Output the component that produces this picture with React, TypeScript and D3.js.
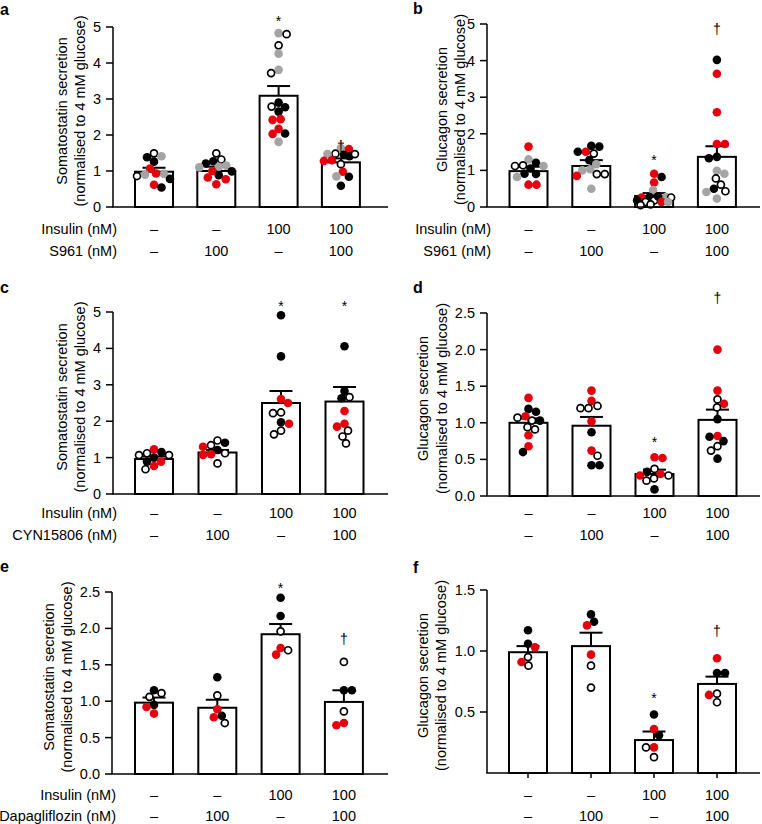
import React from 'react';
import * as d3 from 'd3';

const W = 762;
const H = 824;
const groups = ['g1', 'g2', 'g3', 'g4'];
const insulinRow = ['–', '–', '100', '100'];
const drugRow = ['–', '100', '–', '100'];

type Pt = [number, string];

// ---- panel a : somatostatin, S961
const aMeans = [0.98, 1.0, 3.09, 1.24];
const aSems = [0.11, 0.12, 0.27, 0.11];
const aPoints: Pt[][] = [
  [[1.49, 'o'], [1.41, 'g'], [1.38, 'k'], [1.26, 'k'], [1.07, 'r'], [0.92, 'g'], [0.93, 'r'], [0.86, 'o'], [0.9, 'g'], [0.78, 'k'], [0.62, 'r'], [0.54, 'k']],
  [[1.49, 'o'], [1.32, 'o'], [1.27, 'k'], [1.21, 'k'], [1.15, 'g'], [1.1, 'g'], [1.12, 'g'], [1.0, 'r'], [0.99, 'k'], [0.88, 'k'], [0.82, 'r'], [0.77, 'r'], [0.63, 'r']],
  [[4.83, 'g'], [4.8, 'o'], [4.49, 'o'], [4.26, 'g'], [3.81, 'g'], [3.72, 'o'], [2.9, 'k'], [2.77, 'k'], [2.79, 'o'], [2.65, 'k'], [2.44, 'r'], [2.42, 'r'], [2.17, 'r'], [2.03, 'r'], [2.04, 'k'], [1.81, 'g']],
  [[1.64, 'g'], [1.61, 'r'], [1.48, 'o'], [1.47, 'g'], [1.41, 'k'], [1.47, 'o'], [1.45, 'k'], [1.3, 'r'], [1.28, 'r'], [1.19, 'o'], [0.98, 'r'], [0.85, 'g'], [0.84, 'k'], [0.59, 'k']],
];
const aTicks = [0, 1, 2, 3, 4, 5];
const aMarks: [number, string, number][] = [[2, '*', 5.25], [3, '†', 1.66]];

// ---- panel b : glucagon, S961
const bMeans = [0.98, 1.12, 0.3, 1.37];
const bSems = [0.12, 0.16, 0.08, 0.29];
const bPoints: Pt[][] = [
  [[1.65, 'r'], [1.3, 'g'], [1.21, 'k'], [1.12, 'o'], [1.12, 'g'], [1.14, 'o'], [1.05, 'k'], [0.91, 'k'], [0.9, 'k'], [0.82, 'g'], [0.61, 'r'], [0.61, 'r']],
  [[1.67, 'k'], [1.65, 'k'], [1.51, 'r'], [1.46, 'o'], [1.51, 'k'], [1.28, 'k'], [1.17, 'g'], [1.03, 'g'], [1.0, 'g'], [0.9, 'o'], [0.9, 'o'], [0.85, 'r'], [0.5, 'g']],
  [[0.91, 'r'], [0.82, 'k'], [0.67, 'r'], [0.46, 'g'], [0.27, 'k'], [0.26, 'r'], [0.27, 'g'], [0.18, 'o'], [0.18, 'k'], [0.29, 'k'], [0.26, 'o'], [0.14, 'r'], [0.14, 'o'], [0.14, 'g'], [0.05, 'o'], [0.07, 'o']],
  [[4.02, 'k'], [3.64, 'r'], [2.59, 'r'], [1.72, 'r'], [1.72, 'r'], [1.37, 'k'], [1.33, 'k'], [0.99, 'g'], [0.91, 'g'], [0.78, 'o'], [0.61, 'o'], [0.43, 'o'], [0.5, 'k'], [0.41, 'g'], [0.23, 'g']],
];
const bTicks = [0, 1, 2, 3, 4, 5];
const bMarks: [number, string, number][] = [[2, '*', 1.37], [3, '†', 4.84]];

// ---- panel c : somatostatin, CYN15806
const cMeans = [0.96, 1.14, 2.5, 2.54];
const cSems = [0.07, 0.07, 0.33, 0.4];
const cPoints: Pt[][] = [
  [[1.23, 'r'], [1.15, 'k'], [1.12, 'o'], [1.07, 'o'], [1.07, 'o'], [1.0, 'k'], [0.89, 'k'], [0.89, 'r'], [0.77, 'r'], [0.68, 'o']],
  [[1.47, 'o'], [1.41, 'k'], [1.34, 'o'], [1.3, 'r'], [1.21, 'k'], [1.12, 'o'], [1.09, 'r'], [1.07, 'r'], [0.84, 'o']],
  [[4.91, 'k'], [3.78, 'k'], [2.61, 'r'], [2.5, 'r'], [2.24, 'o'], [2.22, 'o'], [1.97, 'k'], [1.93, 'r'], [1.74, 'o'], [1.64, 'o']],
  [[4.06, 'k'], [2.83, 'k'], [2.63, 'k'], [2.66, 'o'], [2.28, 'r'], [1.93, 'r'], [1.85, 'r'], [1.74, 'o'], [1.58, 'o'], [1.39, 'o']],
];
const cTicks = [0, 1, 2, 3, 4, 5];
const cMarks: [number, string, number][] = [[2, '*', 5.27], [3, '*', 5.27]];

// ---- panel d : glucagon, CYN15806
const dMeans = [1.0, 0.96, 0.3, 1.04];
const dSems = [0.06, 0.12, 0.06, 0.14];
const dPoints: Pt[][] = [
  [[1.34, 'r'], [1.19, 'k'], [1.15, 'k'], [1.09, 'r'], [1.07, 'o'], [1.03, 'o'], [1.03, 'k'], [0.94, 'o'], [0.91, 'o'], [0.83, 'r'], [0.68, 'r'], [0.6, 'k']],
  [[1.44, 'r'], [1.3, 'r'], [1.23, 'o'], [1.2, 'o'], [1.2, 'o'], [1.02, 'r'], [0.87, 'k'], [0.62, 'r'], [0.55, 'o'], [0.42, 'k'], [0.42, 'k']],
  [[0.53, 'r'], [0.52, 'r'], [0.37, 'o'], [0.33, 'k'], [0.3, 'r'], [0.28, 'o'], [0.28, 'r'], [0.24, 'o'], [0.21, 'o'], [0.09, 'k']],
  [[2.0, 'r'], [1.44, 'r'], [1.32, 'o'], [1.26, 'r'], [1.21, 'o'], [1.05, 'k'], [0.82, 'r'], [0.81, 'k'], [0.75, 'k'], [0.68, 'o'], [0.62, 'o'], [0.51, 'k']],
];
const dTicks = [0, 0.5, 1.0, 1.5, 2.0, 2.5];
const dMarks: [number, string, number][] = [[2, '*', 0.79], [3, '†', 2.7]];

// ---- panel e : somatostatin, dapagliflozin
const eMeans = [0.98, 0.91, 1.92, 0.99];
const eSems = [0.07, 0.11, 0.14, 0.16];
const ePoints: Pt[][] = [
  [[1.15, 'k'], [1.11, 'o'], [1.06, 'o'], [0.95, 'k'], [0.92, 'r'], [0.83, 'r']],
  [[1.33, 'k'], [1.08, 'o'], [0.89, 'r'], [0.8, 'k'], [0.78, 'r'], [0.7, 'o']],
  [[2.42, 'k'], [2.17, 'k'], [1.96, 'o'], [1.73, 'r'], [1.7, 'o'], [1.64, 'r']],
  [[1.54, 'o'], [1.15, 'k'], [1.15, 'k'], [0.86, 'o'], [0.7, 'r'], [0.67, 'r']],
];
const eTicks = [0, 0.5, 1.0, 1.5, 2.0, 2.5];
const eMarks: [number, string, number][] = [[2, '*', 2.6], [3, '†', 1.84]];

// ---- panel f : glucagon, dapagliflozin
const fMeans = [0.99, 1.04, 0.27, 0.73];
const fSems = [0.05, 0.11, 0.07, 0.06];
const fPoints: Pt[][] = [
  [[1.17, 'k'], [1.06, 'k'], [1.03, 'r'], [0.95, 'o'], [0.91, 'r'], [0.88, 'o']],
  [[1.3, 'k'], [1.24, 'k'], [1.21, 'r'], [0.97, 'r'], [0.88, 'o'], [0.7, 'o']],
  [[0.48, 'k'], [0.36, 'r'], [0.31, 'k'], [0.21, 'r'], [0.21, 'o'], [0.13, 'o']],
  [[0.94, 'r'], [0.82, 'k'], [0.82, 'k'], [0.65, 'o'], [0.64, 'r'], [0.58, 'o']],
];
const fTicks = [0.5, 1.0, 1.5];
const fMarks: [number, string, number][] = [[2, '*', 0.64], [3, '†', 1.16]];

const SOM = ['Somatostatin secretion', '(normalised to 4 mM glucose)'];
const GLU = ['Glucagon secretion', '(normalised to 4 mM glucose)'];

const FONT = 'Liberation Sans, Arial, Helvetica, sans-serif';
const FS = 14.5;
const R = 4.3;
const COLORS: Record<string, string> = { k: '#000000', r: '#e5000e', g: '#a4a4a4', o: '#ffffff' };

interface Cfg {
  letter: string; lx: number; ly: number;
  axisX: number; yTop: number; yBot: number; yMax: number;
  ticks: number[]; fmt: (v: number) => string;
  xEnd: number; first: number; step: number;
  title: string[]; tx: number[];
  rows: string[] | null; rowY: number[];
  xTicks: boolean;
  means: number[]; sems: number[]; points: Pt[][]; marks: [number, string, number][];
}

const fInt = d3.format('d');
const fDec = d3.format('.1f');

const panels: Cfg[] = [
  { letter: 'a', lx: 0, ly: 15, axisX: 113, yTop: 27, yBot: 207, yMax: 5, ticks: aTicks, fmt: fInt, xEnd: 388, first: 154, step: 62.3, title: SOM, tx: [62, 80], rows: ['Insulin (nM)', 'S961 (nM)'], rowY: [229, 251], xTicks: false, means: aMeans, sems: aSems, points: aPoints, marks: aMarks },
  { letter: 'b', lx: 413, ly: 14, axisX: 487, yTop: 24, yBot: 207, yMax: 5, ticks: bTicks, fmt: fInt, xEnd: 760, first: 528.5, step: 62.8, title: GLU, tx: [442, 460], rows: ['Insulin (nM)', 'S961 (nM)'], rowY: [229, 251], xTicks: false, means: bMeans, sems: bSems, points: bPoints, marks: bMarks },
  { letter: 'c', lx: 0, ly: 293, axisX: 113, yTop: 312, yBot: 494, yMax: 5, ticks: cTicks, fmt: fInt, xEnd: 388, first: 154, step: 63.5, title: SOM, tx: [62, 80], rows: ['Insulin (nM)', 'CYN15806 (nM)'], rowY: [513, 535], xTicks: false, means: cMeans, sems: cSems, points: cPoints, marks: cMarks },
  { letter: 'd', lx: 413, ly: 293, axisX: 487, yTop: 313, yBot: 496, yMax: 2.5, ticks: dTicks, fmt: fDec, xEnd: 760, first: 528.5, step: 63, title: GLU, tx: [423, 442], rows: null, rowY: [513, 535], xTicks: false, means: dMeans, sems: dSems, points: dPoints, marks: dMarks },
  { letter: 'e', lx: 0, ly: 572, axisX: 112, yTop: 592, yBot: 774, yMax: 2.5, ticks: eTicks, fmt: fDec, xEnd: 388, first: 154, step: 63.3, title: SOM, tx: [49, 67], rows: ['Insulin (nM)', 'Dapagliflozin (nM)'], rowY: [795, 816], xTicks: false, means: eMeans, sems: eSems, points: ePoints, marks: eMarks },
  { letter: 'f', lx: 413, ly: 573, axisX: 487, yTop: 590, yBot: 773, yMax: 1.5, ticks: fTicks, fmt: fDec, xEnd: 760, first: 528, step: 63, title: GLU, tx: [423, 441], rows: null, rowY: [795, 816], xTicks: true, means: fMeans, sems: fSems, points: fPoints, marks: fMarks },
];

// compact beeswarm: each point takes the offset nearest the centre that keeps
// a minimum spacing; within a limited half-width, otherwise the least-crowded spot
function swarm(ys: number[], dist: number, half: number): number[] {
  const order = ys.map((_, i) => i).sort((a, b) => ys[a] - ys[b]);
  const placed: { x: number; y: number }[] = [];
  const out = new Array(ys.length).fill(0);
  const cands = d3.range(-half, half + 0.01, 0.5);
  order.forEach((i) => {
    const py = ys[i];
    const bias = placed.length ? d3.mean(placed, (p) => p.x) || 0 : 0;
    const scored = cands.map((cx) => {
      let md = Infinity;
      placed.forEach((p) => {
        const d = Math.hypot(p.x - cx, p.y - py);
        if (d < md) md = d;
      });
      return { cx, md };
    });
    const ok = scored.filter((s) => s.md >= dist);
    let x: number;
    if (ok.length) {
      ok.sort((a, b) => {
        const d = Math.abs(a.cx) - Math.abs(b.cx);
        if (Math.abs(d) > 0.01) return d;
        return bias > 0 ? a.cx - b.cx : b.cx - a.cx;
      });
      x = ok[0].cx;
    } else {
      scored.sort((a, b) => b.md - a.md || Math.abs(a.cx) - Math.abs(b.cx));
      x = scored[0].cx;
    }
    out[i] = x;
    placed.push({ x, y: py });
  });
  return out;
}

function Panel({ c }: { c: Cfg }) {
  const y = d3.scaleLinear().domain([0, c.yMax]).range([c.yBot, c.yTop]);
  const x = d3.scalePoint<string>().domain(groups).range([c.first, c.first + 3 * c.step]);
  const barW = 38;
  const capW = 23;
  const titleY = (c.yTop + c.yBot) / 2 - 6;
  return (
    <g fontFamily={FONT}>
      <text x={c.lx} y={c.ly} fontSize={16} fontWeight="bold">{c.letter}</text>
      {c.title.map((t, i) => (
        <text key={i} transform={`translate(${c.tx[i]},${titleY}) rotate(-90)`} textAnchor="middle" dy="0.35em" fontSize={FS}>{t}</text>
      ))}
      {groups.map((g, i) => (
        <g key={g}>
          <rect x={x(g)! - barW / 2} y={y(c.means[i])} width={barW} height={c.yBot - y(c.means[i])} fill="#fff" stroke="#000" strokeWidth={2} />
          <line x1={x(g)} x2={x(g)} y1={y(c.means[i])} y2={y(c.means[i] + c.sems[i])} stroke="#000" strokeWidth={2} />
          <line x1={x(g)! - capW / 2} x2={x(g)! + capW / 2} y1={y(c.means[i] + c.sems[i])} y2={y(c.means[i] + c.sems[i])} stroke="#000" strokeWidth={2} />
        </g>
      ))}
      {groups.map((g, i) => {
        const pts = c.points[i];
        const ys = pts.map((p) => y(p[0]));
        const dx = swarm(ys, 2 * R * 0.9, 17);
        return (
          <g key={'p' + g}>
            {pts.map((p, j) => (
              <circle key={j} cx={x(g)! + dx[j]} cy={ys[j]} r={p[1] === 'o' ? R - 0.8 : R}
                fill={COLORS[p[1]]} stroke={p[1] === 'o' ? '#000' : 'none'} strokeWidth={p[1] === 'o' ? 1.7 : 0} />
            ))}
          </g>
        );
      })}
      <line x1={c.axisX} x2={c.axisX} y1={c.yTop} y2={c.yBot} stroke="#000" strokeWidth={1.5} />
      <line x1={c.axisX - 0.75} x2={c.xEnd} y1={c.yBot} y2={c.yBot} stroke="#000" strokeWidth={1.5} />
      {c.ticks.map((t) => (
        <g key={t}>
          <line x1={c.axisX - 7} x2={c.axisX} y1={y(t)} y2={y(t)} stroke="#000" strokeWidth={1.5} />
          <text x={c.axisX - 12} y={y(t)} dy="0.35em" textAnchor="end" fontSize={FS}>{c.fmt(t)}</text>
        </g>
      ))}
      {c.xTicks && groups.map((g) => (
        <line key={'xt' + g} x1={x(g)} x2={x(g)} y1={c.yBot} y2={c.yBot + 5} stroke="#000" strokeWidth={1.5} />
      ))}
      {c.marks.map(([gi, s, v], i) => (
        <text key={'m' + i} x={x(groups[gi])} y={y(v)} dy={s === '*' ? '0.6em' : '0.3em'} textAnchor="middle" fontSize={14} fill="#000">{s}</text>
      ))}
      {[insulinRow, drugRow].map((row, ri) => (
        <g key={'r' + ri}>
          {c.rows && (
            <text x={c.axisX + 4} y={c.rowY[ri]} dy="0.35em" textAnchor="end" fontSize={FS}>{c.rows[ri]}</text>
          )}
          {row.map((v, gi) => (
            <text key={gi} x={x(groups[gi])} y={c.rowY[ri]} dy="0.35em" textAnchor="middle" fontSize={FS}>{v}</text>
          ))}
        </g>
      ))}
    </g>
  );
}

export default function App() {
  return (
    <svg width={W} height={H} style={{ position: 'absolute', left: 0, top: 0, background: '#fff' }}>
      <rect width={W} height={H} fill="#fff" />
      {panels.map((p) => (
        <Panel key={p.letter} c={p} />
      ))}
    </svg>
  );
}
